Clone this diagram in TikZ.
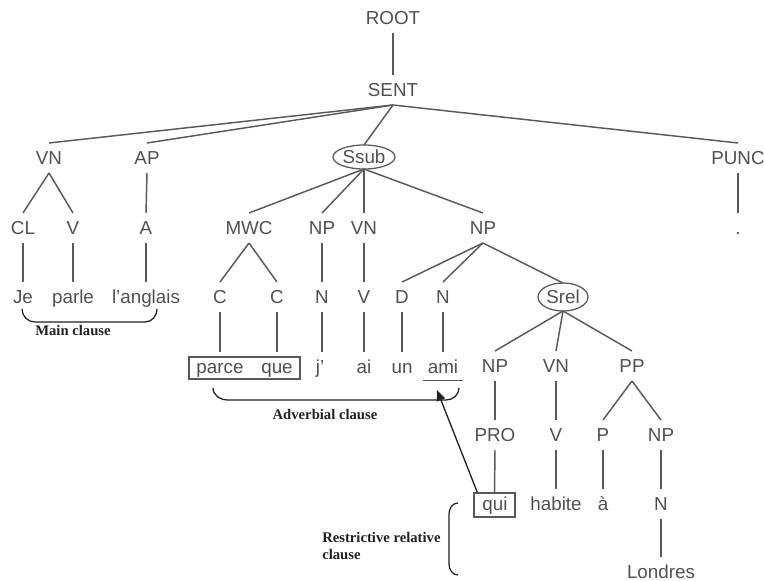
\documentclass[tikz,border=0pt]{standalone}
\usepackage{fontspec}
\setmainfont{Liberation Sans}
\newfontfamily\annfont{Liberation Serif}
\usetikzlibrary{shapes.geometric,arrows.meta}
\definecolor{txt}{HTML}{505050}
\definecolor{ln}{HTML}{5A5A5A}
\definecolor{anncol}{HTML}{222222}
\begin{document}
\begin{tikzpicture}[x=0.75pt,y=-0.75pt,
  w/.style={inner sep=0pt,outer xsep=0pt,outer ysep=6.2pt,text height=10.1pt,text depth=0pt,font=\fontsize{14.1}{16}\selectfont,text=txt},
  ell/.style={ellipse,draw=ln,line width=0.95pt,inner sep=0pt,outer sep=0pt,text height=10.1pt,text depth=0pt,font=\fontsize{14.1}{16}\selectfont,text=txt},
  edge/.style={draw=ln,line width=1.1pt},
  wbox/.style={draw=ln,line width=1.1pt,inner sep=0pt},
  ann/.style={font=\annfont\bfseries\fontsize{11}{12.75}\selectfont,text=anncol,inner sep=0pt},
  bracecurve/.style={draw=anncol,line width=0.95pt},
]
\useasboundingbox (0,0) rectangle (764,581);

% level 0-1
\node[w] (root) at (393,18) {ROOT};
\node[w] (sent) at (393,90) {SENT};
% level 2
\node[w] (vn1) at (49,158) {VN};
\node[w] (ap) at (147,158) {AP};
\node[ell,minimum width=46.5pt,minimum height=18pt] (ssub) at (364,157) {Ssub};
\node[w] (punc) at (738,158) {PUNC};
% level 3
\node[w] (cl) at (23,228) {CL};
\node[w] (v1) at (73,228) {V};
\node[w] (a1) at (146,228) {A};
\node[w] (mwc) at (249,228) {MWC};
\node[w] (np1) at (322,228) {NP};
\node[w] (vn2) at (364,228) {VN};
\node[w] (np2) at (483,228) {NP};
\node[w] (dot) at (738,228) {.};
% level 4
\node[w] (je) at (23,297) {Je};
\node[w] (parle) at (73,297) {parle};
\node[w] (lang) at (146,297) {l’anglais};
\node[w] (c1) at (220,297) {C};
\node[w] (c2) at (277,297) {C};
\node[w] (n1) at (322,297) {N};
\node[w] (v2) at (364,297) {V};
\node[w] (d1) at (402,297) {D};
\node[w] (n2) at (443,297) {N};
\node[ell,minimum width=37.5pt,minimum height=21pt] (srel) at (563,297) {Srel};
% level 5
\node[w] (parce) at (220,367) {parce};
\node[w] (que) at (277,367) {que};
\node[wbox,minimum width=83.25pt,minimum height=16.5pt] (pqbox) at (244.5,368) {};
\node[w] (jp) at (320,367) {j’};
\node[w] (ai) at (364,367) {ai};
\node[w] (un) at (402,367) {un};
\node[w] (ami) at (443,367) {ami};
\node[w] (np3) at (495,366) {NP};
\node[w] (vn3) at (556,366) {VN};
\node[w] (pp) at (632,366) {PP};
% level 6
\node[w] (pro) at (495,435) {PRO};
\node[w] (v3) at (556,435) {V};
\node[w] (p1) at (603,435) {P};
\node[w] (np4) at (661,435) {NP};
% level 7
\node[w] (qui) at (495,504) {qui};
\node[wbox,minimum width=30.75pt,minimum height=18pt] (quibox) at (494.5,505) {};
\node[w] (habite) at (556,504) {habite};
\node[w] (a2) at (603,504) {à};
\node[w] (n3) at (661,504) {N};
% level 8
\node[w] (londres) at (661,572) {Londres};

% edges
\draw[edge] (root.south) -- (sent.north);
\draw[edge] (sent.south) -- (vn1.north);
\draw[edge] (sent.south) -- (ap.north);
\draw[edge] (sent.south) -- (ssub.north);
\draw[edge] (sent.south) -- (punc.north);
\draw[edge] (vn1.south) -- (cl.north);
\draw[edge] (vn1.south) -- (v1.north);
\draw[edge] (ap.south) -- (a1.north);
\draw[edge] (punc.south) -- (dot.north);
\draw[edge] (ssub.south) -- (mwc.north);
\draw[edge] (ssub.south) -- (np1.north);
\draw[edge] (ssub.south) -- (vn2.north);
\draw[edge] (ssub.south) -- (np2.north);
\draw[edge] (cl.south) -- (je.north);
\draw[edge] (v1.south) -- (parle.north);
\draw[edge] (a1.south) -- (lang.north);
\draw[edge] (mwc.south) -- (c1.north);
\draw[edge] (mwc.south) -- (c2.north);
\draw[edge] (np1.south) -- (n1.north);
\draw[edge] (vn2.south) -- (v2.north);
\draw[edge] (np2.south) -- (d1.north);
\draw[edge] (np2.south) -- (n2.north);
\draw[edge] (np2.south) -- (srel.north);
\draw[edge] (c1.south) -- (parce.north);
\draw[edge] (c2.south) -- (que.north);
\draw[edge] (n1.south) -- (n1.south |- jp.north);
\draw[edge] (v2.south) -- (ai.north);
\draw[edge] (d1.south) -- (un.north);
\draw[edge] (n2.south) -- (ami.north);
\draw[edge] (srel.south) -- (np3.north);
\draw[edge] (srel.south) -- (vn3.north);
\draw[edge] (srel.south) -- (pp.north);
\draw[edge] (np3.south) -- (pro.north);
\draw[edge] (vn3.south) -- (v3.north);
\draw[edge] (pp.south) -- (p1.north);
\draw[edge] (pp.south) -- (np4.north);
\draw[edge] (pro.south) -- (quibox.north);
\draw[edge] (v3.south) -- (habite.north);
\draw[edge] (p1.south) -- (a2.north);
\draw[edge] (np4.south) -- (n3.north);
\draw[edge] (n3.south) -- (londres.north);

% underline of ami
\draw[edge] ([xshift=-3.5pt,yshift=-5pt]ami.base west) -- ([xshift=3.5pt,yshift=-5pt]ami.base east);

% annotations
\node[ann] (mainlbl) at (73,330) {Main clause};
\draw[bracecurve] (22,309) to[out=-90,in=180] (35,322) -- (145,322) to[out=0,in=-90] (157,309);

\node[ann] (advlbl) at (325,414) {Adverbial clause};
\draw[bracecurve] (213,388) to[out=-90,in=180] (228,400) -- (446,400) to[out=0,in=-90] (459,388);

\coordinate (amitip) at (437,390);
\draw[draw=anncol,line width=1pt,-{Triangle[length=8pt,width=6.5pt]}] ([xshift=3pt]quibox.north west) -- (amitip);

\node[ann,align=left,anchor=west] (rrclbl) at (322,546) {Restrictive relative\\clause};
\draw[bracecurve] (458,503) to[out=180,in=90] (449,514) -- (449,564) to[out=-90,in=180] (458,575);
\end{tikzpicture}
\end{document}
